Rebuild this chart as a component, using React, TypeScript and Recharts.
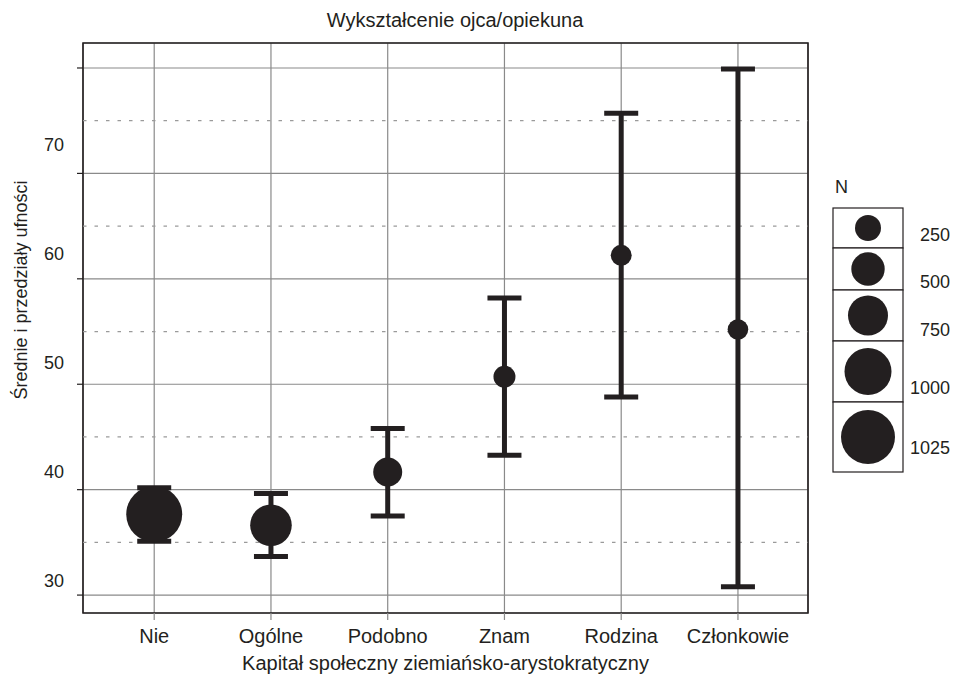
import React from 'react';
import {
  ScatterChart,
  Scatter,
  XAxis,
  YAxis,
  CartesianGrid,
  ReferenceLine,
  ReferenceArea,
  ErrorBar,
  Label,
} from 'recharts';

// --- data ---
const CATEGORIES = ['Nie', 'Ogólne', 'Podobno', 'Znam', 'Rodzina', 'Członkowie'];
const MEANS = [37.67, 36.63, 41.67, 50.71, 62.23, 55.19];
const CI_LOW = [35.1, 33.65, 37.5, 43.27, 48.8, 30.8];
const CI_HIGH = [40.18, 39.64, 45.8, 58.17, 75.7, 79.9];
const COUNTS = [1032, 807, 351, 179, 163, 157];

const MAJOR_TICKS = [30, 40, 50, 60, 70, 80];
const LABELLED_TICKS = [30, 40, 50, 60, 70];
const MINOR_TICKS = [35, 45, 55, 65, 75];
const LEGEND_N = [250, 500, 750, 1000, 1025];

// --- styling ---
const INK = '#231f20';
const GRID = '#8a8a8a';
const FONT = '"Liberation Sans", Arial, sans-serif';
const FS = 18;
const FS_BIG = 20;
const LEGEND_R = [13, 16.7, 20, 23.5, 27];
const LEGEND_ROW_H = [40, 42, 51, 61, 70];
const LEGEND_LABEL_UP = [13, 8, 11, 14, 24];

function radiusFor(n: number) {
  if (n <= LEGEND_N[0]) return LEGEND_R[0] * Math.sqrt(n / LEGEND_N[0]);
  for (let i = 1; i < LEGEND_N.length; i++) {
    if (n <= LEGEND_N[i]) {
      const t = (n - LEGEND_N[i - 1]) / (LEGEND_N[i] - LEGEND_N[i - 1]);
      return LEGEND_R[i - 1] + t * (LEGEND_R[i] - LEGEND_R[i - 1]);
    }
  }
  const k = LEGEND_N.length - 1;
  const slope = (LEGEND_R[k] - LEGEND_R[k - 1]) / (LEGEND_N[k] - LEGEND_N[k - 1]);
  return LEGEND_R[k] + (n - LEGEND_N[k]) * slope;
}

const rows = CATEGORIES.map((name, i) => ({
  x: i + 1,
  name,
  mean: MEANS[i],
  err: [MEANS[i] - CI_LOW[i], CI_HIGH[i] - MEANS[i]],
  n: COUNTS[i],
}));

const Bubble = (props: any) => {
  const { cx, cy, payload } = props;
  if (cx == null || cy == null) return null;
  return <circle cx={cx} cy={cy} r={radiusFor(payload.n)} fill={INK} />;
};

const YTick = (props: any) => {
  const { x, y, payload } = props;
  if (!LABELLED_TICKS.includes(payload.value)) return <g />;
  // labels in the original sit somewhat above their grid lines
  const lift = 14 + 0.35 * (payload.value - 30);
  return (
    <text
      x={x}
      y={y - lift}
      textAnchor="end"
      dominantBaseline="central"
      fill={INK}
      fontSize={FS}
      fontFamily={FONT}
    >
      {payload.value}
    </text>
  );
};

const YTitle = (props: any) => {
  const vb = props.viewBox || { x: 0, y: 0, height: 0 };
  const cy = vb.y + vb.height / 2 - 38;
  return (
    <text
      transform={`translate(21, ${cy}) rotate(-90)`}
      textAnchor="middle"
      dominantBaseline="central"
      fill={INK}
      fontSize={FS}
      fontFamily={FONT}
    >
      Średnie i przedziały ufności
    </text>
  );
};

function SizeLegend() {
  let top = 208;
  const boxes = LEGEND_N.map((n, i) => {
    const h = LEGEND_ROW_H[i];
    const y0 = top;
    top += h;
    return (
      <g key={n}>
        <rect x={833} y={y0} width={70} height={h} fill="#fff" stroke={INK} strokeWidth={1.2} />
        <circle cx={868} cy={y0 + h / 2} r={LEGEND_R[i]} fill={INK} />
        <text
          x={950}
          y={y0 + h - LEGEND_LABEL_UP[i]}
          textAnchor="end"
          dominantBaseline="central"
          fill={INK}
          fontSize={FS}
          fontFamily={FONT}
        >
          {n}
        </text>
      </g>
    );
  });
  return (
    <svg
      width={960}
      height={678}
      style={{ position: 'absolute', left: 0, top: 0, pointerEvents: 'none' }}
    >
      <text x={835} y={187} dominantBaseline="central" fill={INK} fontSize={FS} fontFamily={FONT}>
        N
      </text>
      {boxes}
    </svg>
  );
}

export default function App() {
  return (
    <div
      style={{
        position: 'absolute',
        left: 0,
        top: 0,
        width: 960,
        height: 678,
        background: '#fff',
        fontFamily: FONT,
      }}
    >
      <div
        style={{
          position: 'absolute',
          left: 0,
          width: 910,
          top: 8,
          textAlign: 'center',
          fontSize: FS_BIG,
          color: INK,
          lineHeight: '24px',
        }}
      >
        Wykształcenie ojca/opiekuna
      </div>
      <ScatterChart
        width={960}
        height={678}
        margin={{ top: 43, right: 152, bottom: 0, left: 0 }}
      >
        <CartesianGrid stroke={GRID} strokeWidth={1.2} />
        {MINOR_TICKS.map((v) => (
          <ReferenceLine
            key={v}
            y={v}
            stroke="#9a9a9a"
            strokeWidth={1.2}
            strokeDasharray="3.5 8"
          />
        ))}
        <XAxis
          type="number"
          dataKey="x"
          domain={[0.39, 6.6]}
          ticks={[1, 2, 3, 4, 5, 6]}
          allowDataOverflow
          tickFormatter={(v: number) => CATEGORIES[v - 1] ?? ''}
          height={65}
          tickSize={7}
          tickMargin={9}
          axisLine={false}
          tickLine={{ stroke: GRID, strokeWidth: 1.2 }}
          tick={{ fill: INK, fontSize: FS_BIG, fontFamily: FONT }}
          label={{
            value: 'Kapitał społeczny ziemiańsko-arystokratyczny',
            position: 'insideBottom',
            offset: 8,
            fill: INK,
            fontSize: FS_BIG,
            fontFamily: FONT,
          }}
        />
        <YAxis
          type="number"
          dataKey="mean"
          domain={[28.3, 82.37]}
          ticks={MAJOR_TICKS}
          allowDataOverflow
          width={83}
          tickSize={6}
          tickMargin={13}
          axisLine={false}
          tickLine={{ stroke: INK, strokeWidth: 1.2 }}
          tick={<YTick />}
        >
          <Label content={<YTitle />} />
        </YAxis>
        <ReferenceArea
          x1={0.39}
          x2={6.6}
          y1={28.3}
          y2={82.37}
          fill="none"
          fillOpacity={0}
          stroke={INK}
          strokeWidth={1.6}
        />
        <Scatter data={rows} shape={<Bubble />} isAnimationActive={false}>
          <ErrorBar
            dataKey="err"
            direction="y"
            width={17}
            strokeWidth={5}
            stroke={INK}
            isAnimationActive={false}
          />
        </Scatter>
      </ScatterChart>
      <SizeLegend />
    </div>
  );
}
